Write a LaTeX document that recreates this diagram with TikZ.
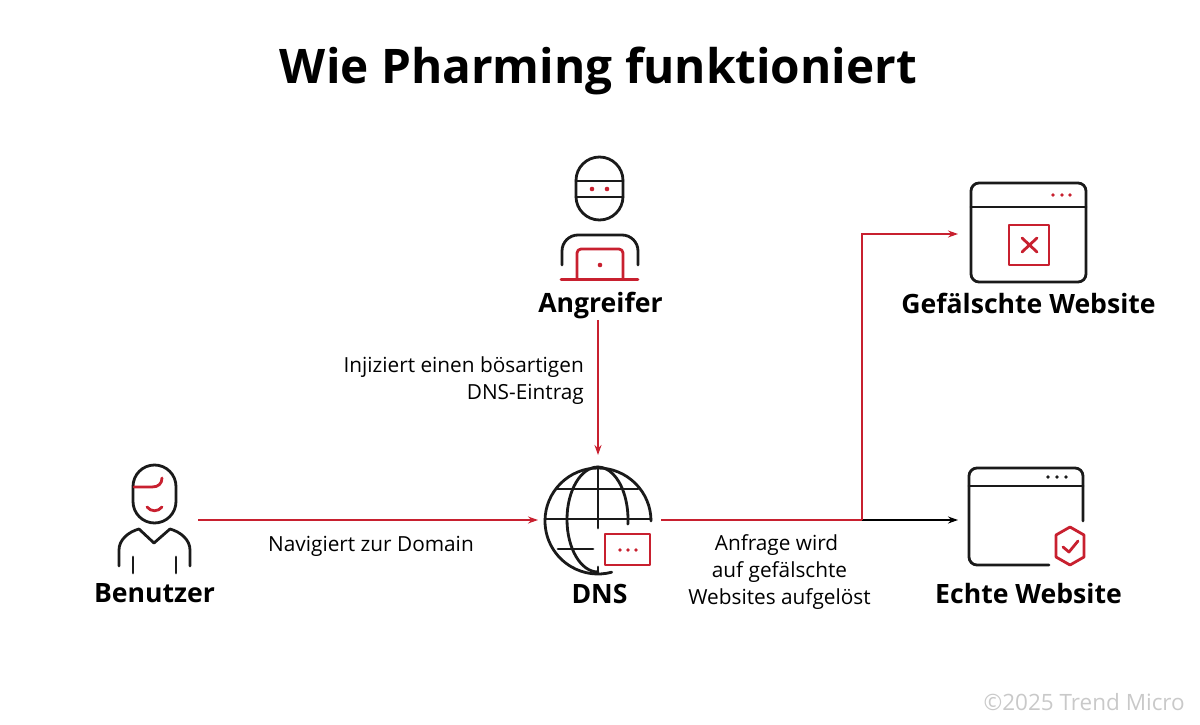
\documentclass[tikz,border=0pt]{standalone}
\usepackage{fontspec}
\setmainfont{Open Sans}
\usetikzlibrary{arrows.meta}
\definecolor{tmred}{HTML}{C8202F}
\definecolor{ink}{HTML}{1A1A1A}
\definecolor{copygray}{HTML}{C9C9C9}
\tikzset{
  blk/.style={draw=ink,line width=2.8pt,line cap=round,line join=round},
  rd/.style={draw=tmred,line width=2.8pt,line cap=round,line join=round},
  reddot/.style={fill=tmred,draw=none},
  blkdot/.style={fill=ink,draw=none},
  hit/.style={inner sep=0pt,outer sep=0pt,draw=none},
  titlet/.style={font=\fontsize{47.7}{58}\selectfont\bfseries,text=black,inner sep=0pt},
  headt/.style={font=\fontsize{26.6}{32}\selectfont\bfseries,text=black,inner sep=0pt},
  bodyt/.style={font=\fontsize{20.8}{27}\selectfont,text=black,inner sep=0pt},
  redarrow/.style={draw=tmred,line width=1.8pt,-{Stealth[length=10pt,width=7pt]}},
  redline/.style={draw=tmred,line width=1.8pt},
  blackarrow/.style={draw=black,line width=1.8pt,-{Stealth[length=10pt,width=7pt]}},
}
\begin{document}
\begin{tikzpicture}[x=1pt,y=-1pt]
\useasboundingbox (0,0) rectangle (1200,725);
% anchor boxes of the icons
\node[hit,minimum width=80pt,minimum height=164pt] (angreifer) at (598,238) {};
\node[hit,minimum width=88pt,minimum height=112pt] (benutzer) at (154,520) {};
\node[hit,minimum width=120pt,minimum height=130pt] (dns) at (598,520) {};
\node[hit,minimum width=142pt,minimum height=102pt] (fake) at (1029,234) {};
\node[hit,minimum width=136pt,minimum height=100pt] (real) at (1026,520) {};
\coordinate (split) at (862,520);

% texts
\node[titlet] (title) at (598.5,71) {Wie Pharming funktioniert};
\node[headt] (tA) at (600.5,306) {Angreifer};
\node[headt] (tB) at (154.5,593.5) {Benutzer};
\node[headt] (tD) at (599.5,593.5) {DNS};
\node[headt] (tF) at (1028.5,303) {Gefälschte Website};
\node[headt] (tR) at (1028.5,593.5) {Echte Website};
\node[bodyt,align=right,anchor=north east] (l1) at (584,356) {Injiziert einen bösartigen\\DNS-Eintrag};
\node[bodyt] (l2) at (371,546) {Navigiert zur Domain};
\node[bodyt,align=center,anchor=north] (l3) at (779.5,534) {Anfrage wird\hspace*{6pt}\\auf gefälschte\\Websites aufgelöst};
\node[font=\fontsize{22.5}{26}\selectfont,text=copygray,inner sep=0pt,anchor=east] (copy) at (1185,702) {©2025 Trend Micro};

% connectors
\draw[blackarrow] (split) -- (real.west);
\draw[redarrow] (benutzer.east) -- (dns.west);
\draw[redarrow] (angreifer.south) -- (dns.north);
\draw[redline] ([xshift=3pt]dns.east) -- (split);
\draw[redarrow] (split) -- (split |- fake.west) -- (fake.west);

% attacker icon
\draw[blk] (576,180.5) arc[start angle=180,end angle=360,radius=23.5] -- (623,196.5) arc[start angle=0,end angle=180,radius=23.5] -- cycle;
\draw[blk] (576,181) -- (623,181) (576,197) -- (623,197);
\fill[reddot] (592,189) circle (2.3) (607,189) circle (2.3);
\draw[blk] (562,265) -- (562,251) arc[start angle=180,end angle=270,radius=16] -- (622,235) arc[start angle=270,end angle=360,radius=16] -- (638,265);
\draw[rd] (561,279.5) -- (638,279.5);
\draw[rd] (577,279) -- (577,253) arc[start angle=180,end angle=270,radius=4] -- (619,249) arc[start angle=270,end angle=360,radius=4] -- (623,279);
\fill[reddot] (600,265) circle (2.3);

% user icon
\draw[blk] (133,486.5) arc[start angle=180,end angle=360,radius=21.5] -- (176,501.5) arc[start angle=0,end angle=180,radius=21.5] -- cycle;
\draw[rd] (134,487) -- (152,487) .. controls (158,487) and (162,484) .. (162,478);
\draw[rd] (147,507) .. controls (151,512) and (158,512) .. (162,507);
\draw[blk] (119,566) -- (119,550) .. controls (119,540) and (128,532) .. (139,529) -- (154,543) -- (170,529) .. controls (181,532) and (190,540) .. (190,550) -- (190,566);
\draw[blk] (133,557) -- (133,573) (176,557) -- (176,573);

% DNS icon
\draw[blk] (651,521) arc[start angle=0,end angle=-285,radius=53] ;
\draw[blk] (598,467) -- (598,528) (598,567) -- (598,572);
\draw[blk] (545,519) -- (651,519) (557,489) -- (638,489) (558,549) -- (593,549);
\draw[blk] (598,467) arc[start angle=-90,end angle=-270,x radius=31,y radius=52.5];
\draw[blk] (598,467) arc[start angle=-90,end angle=5,x radius=30,y radius=52.5];
\draw[rd] (605,534) rectangle (650,565);
\fill[reddot] (620,550) circle (1.8) (628,550) circle (1.8) (636,550) circle (1.8);

% fake website icon
\draw[blk] (979,183) -- (1078,183) arc[start angle=270,end angle=360,radius=8] -- (1086,274) arc[start angle=0,end angle=90,radius=8] -- (979,282) arc[start angle=90,end angle=180,radius=8] -- (971,191) arc[start angle=180,end angle=270,radius=8] -- cycle;
\draw[blk] (971,207) -- (1086,207);
\fill[reddot] (1053,195) circle (1.8) (1062,195) circle (1.8) (1070,195) circle (1.8);
\draw[rd] (1009,225) rectangle (1049,265);
\draw[rd] (1022,238) -- (1037,252) (1037,238) -- (1022,252);

% real website icon
\draw[blk] (1049,565) -- (977,565) arc[start angle=90,end angle=180,radius=8] -- (969,476) arc[start angle=180,end angle=270,radius=8] -- (1075,468) arc[start angle=270,end angle=360,radius=8] -- (1083,521);
\draw[blk] (969,486) -- (1083,486);
\fill[blkdot] (1048,477) circle (1.8) (1057,477) circle (1.8) (1066,477) circle (1.8);
\draw[rd] (1070,527) -- (1084,535) -- (1084,557) -- (1070,565) -- (1056,557) -- (1056,535) -- cycle;
\draw[rd] (1063,547) -- (1069,552) -- (1078,541);
\end{tikzpicture}
\end{document}
